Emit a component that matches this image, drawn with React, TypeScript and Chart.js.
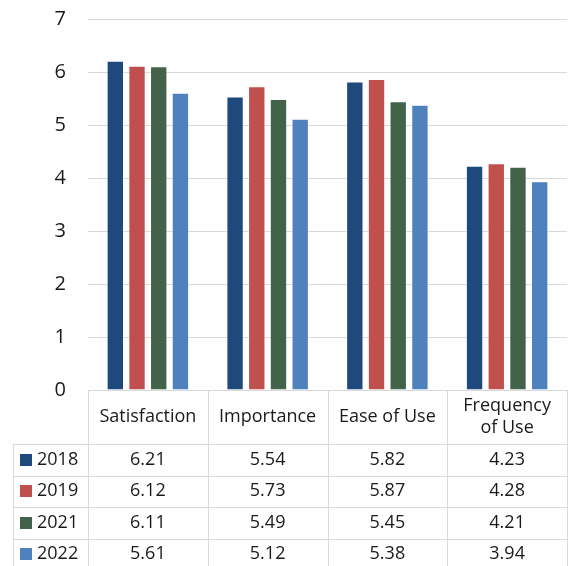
import React, { useEffect, useRef } from "react";
import { Chart, registerables } from "chart.js";

Chart.register(...registerables);

const categories: string[][] = [["Satisfaction"], ["Importance"], ["Ease of Use"], ["Frequency", "of Use"]];
const seriesNames = ["2018", "2019", "2021", "2022"];
const values2018 = [6.21, 5.54, 5.82, 4.23];
const values2019 = [6.12, 5.73, 5.87, 4.28];
const values2021 = [6.11, 5.49, 5.45, 4.21];
const values2022 = [5.61, 5.12, 5.38, 3.94];
const seriesColors = ["#1F497D", "#C0504D", "#42634A", "#4F81BD"];
const yTicks = [0, 1, 2, 3, 4, 5, 6, 7];

const FONT = "'Open Sans', 'Noto Sans', sans-serif";
const GRID = "#D9D9D9";

const tablePlugin = {
  id: "dataTable",
  afterDraw(chart: any) {
    const ctx = chart.ctx as CanvasRenderingContext2D;
    const area = chart.chartArea;
    const xs = chart.scales.x;
    const n = categories.length;
    const catW = (area.right - area.left) / n;
    const top = area.bottom;
    const headerH = 54;
    const rowH = 31.5;
    const legendLeft = 13;
    const allSeries = [values2018, values2019, values2021, values2022];
    const bottom = top + headerH + rowH * allSeries.length;

    ctx.save();
    ctx.strokeStyle = GRID;
    ctx.lineWidth = 1;
    ctx.beginPath();
    ctx.moveTo(area.left, top + 0.5);
    ctx.lineTo(area.right, top + 0.5);
    ctx.stroke();
    for (let r = 0; r <= allSeries.length; r++) {
      const y = Math.round(top + headerH + r * rowH) + 0.5;
      ctx.beginPath();
      ctx.moveTo(legendLeft, y);
      ctx.lineTo(area.right, y);
      ctx.stroke();
    }
    ctx.beginPath();
    ctx.moveTo(legendLeft + 0.5, top + headerH);
    ctx.lineTo(legendLeft + 0.5, bottom);
    ctx.stroke();
    for (let i = 0; i <= n; i++) {
      const cx = i < n ? xs.getPixelForValue(i) - catW / 2 : xs.getPixelForValue(n - 1) + catW / 2;
      const x = Math.round(cx) + 0.5;
      ctx.beginPath();
      ctx.moveTo(x, top);
      ctx.lineTo(x, bottom);
      ctx.stroke();
    }

    ctx.fillStyle = "#1a1a1a";
    ctx.font = `18px ${FONT}`;
    ctx.textAlign = "center";
    ctx.textBaseline = "middle";
    categories.forEach((lines, i) => {
      const cx = xs.getPixelForValue(i);
      const lh = 22;
      const cy = top + headerH / 2 - ((lines.length - 1) * lh) / 2;
      lines.forEach((t, k) => ctx.fillText(t, cx, cy + k * lh));
    });
    allSeries.forEach((vals, r) => {
      const cy = top + headerH + r * rowH + rowH / 2;
      ctx.fillStyle = seriesColors[r];
      ctx.fillRect(legendLeft + 7, Math.round(cy - 6), 12, 12);
      ctx.fillStyle = "#1a1a1a";
      ctx.textAlign = "left";
      ctx.fillText(seriesNames[r], legendLeft + 24, cy);
      ctx.textAlign = "center";
      vals.forEach((v, i) => {
        ctx.fillText(v.toFixed(2), xs.getPixelForValue(i), cy);
      });
    });
    ctx.restore();
  },
};

export default function App() {
  const ref = useRef<HTMLCanvasElement | null>(null);
  useEffect(() => {
    if (!ref.current) return;
    const allSeries = [values2018, values2019, values2021, values2022];
    const chart = new Chart(ref.current, {
      type: "bar",
      data: {
        labels: categories.map((c) => c.join(" ")),
        datasets: allSeries.map((vals, i) => ({
          label: seriesNames[i],
          data: vals,
          backgroundColor: seriesColors[i],
          borderColor: "rgba(255,255,255,0.35)",
          borderWidth: 1,
          categoryPercentage: 0.725,
          barPercentage: 0.8,
        })),
      },
      options: {
        animation: false,
        responsive: false,
        maintainAspectRatio: false,
        layout: { padding: { top: 19, bottom: 176, left: 0, right: 2 } },
        plugins: { legend: { display: false }, tooltip: { enabled: false } },
        scales: {
          x: { display: false, grid: { display: false } },
          y: {
            min: 0,
            max: 7,
            afterFit(scale: any) {
              scale.width = 88;
              scale.paddingTop = 0;
              scale.paddingBottom = 0;
            },
            afterBuildTicks(scale: any) {
              scale.ticks = yTicks.map((v) => ({ value: v }));
            },
            border: { display: false },
            grid: { color: GRID, lineWidth: 1, drawTicks: false },
            ticks: {
              padding: 22,
              color: "#1a1a1a",
              font: { family: FONT, size: 20 },
            },
          },
        },
      },
      plugins: [tablePlugin],
    });
    return () => chart.destroy();
  }, []);
  return (
    <div style={{ position: "fixed", left: 0, top: 0, width: 569, height: 566, background: "#fff" }}>
      <canvas ref={ref} width={569} height={566} style={{ display: "block" }} />
    </div>
  );
}
